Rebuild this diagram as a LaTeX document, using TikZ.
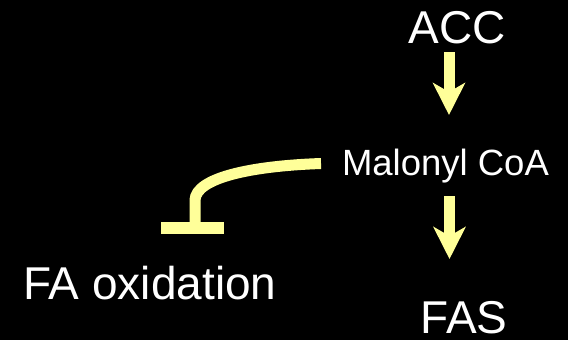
\documentclass[tikz,border=0pt]{standalone}
\usepackage{fontspec}
\setmainfont{Liberation Sans}
\usetikzlibrary{arrows.meta}
\definecolor{paleyellow}{HTML}{FFFF99}

\begin{document}
\begin{tikzpicture}[x=1pt,y=-1pt]

  \tikzstyle{label}=[text=white,inner sep=0pt,anchor=base,font=\fontsize{46}{55}\selectfont];
  \tikzstyle{small}=[label,font=\fontsize{36.5}{44}\selectfont];
  \tikzstyle{pathway}=[draw=paleyellow,line width=11pt,-{Stealth[length=32pt,width=32pt,inset=9pt]}];
  \tikzstyle{inhibit}=[draw=paleyellow,line width=11pt];
  \tikzstyle{bar}=[draw=paleyellow,line width=12pt];

  \fill[black] (0,0) rectangle (568,340);
  \useasboundingbox (0,0) rectangle (568,340);

  \node[label] (acc)      at (457,43)    {ACC};
  \node[small] (malonyl)  at (445.5,175) {Malonyl CoA};
  \node[label] (faox)     at (150,299)   {FA oxidation};
  \node[label] (fas)      at (464,333)   {FAS};

  \coordinate (accout)  at (449,52);
  \coordinate (malin)   at (449,115);
  \coordinate (malout)  at (449.5,196);
  \coordinate (fasin)   at (449.5,259);
  \coordinate (malleft) at (321,163.5);
  \coordinate (stem)    at (195,222);
  \coordinate (barleft) at (161,228);
  \coordinate (barright) at (224,228);

  \path (accout) edge[pathway] (malin)
        (malout) edge[pathway] (fasin);
  \draw[inhibit] (malleft) .. controls (250,166) and (196,178) .. (195,200) -- (stem);
  \draw[bar] (barleft) -- (barright);

\end{tikzpicture}
\end{document}
